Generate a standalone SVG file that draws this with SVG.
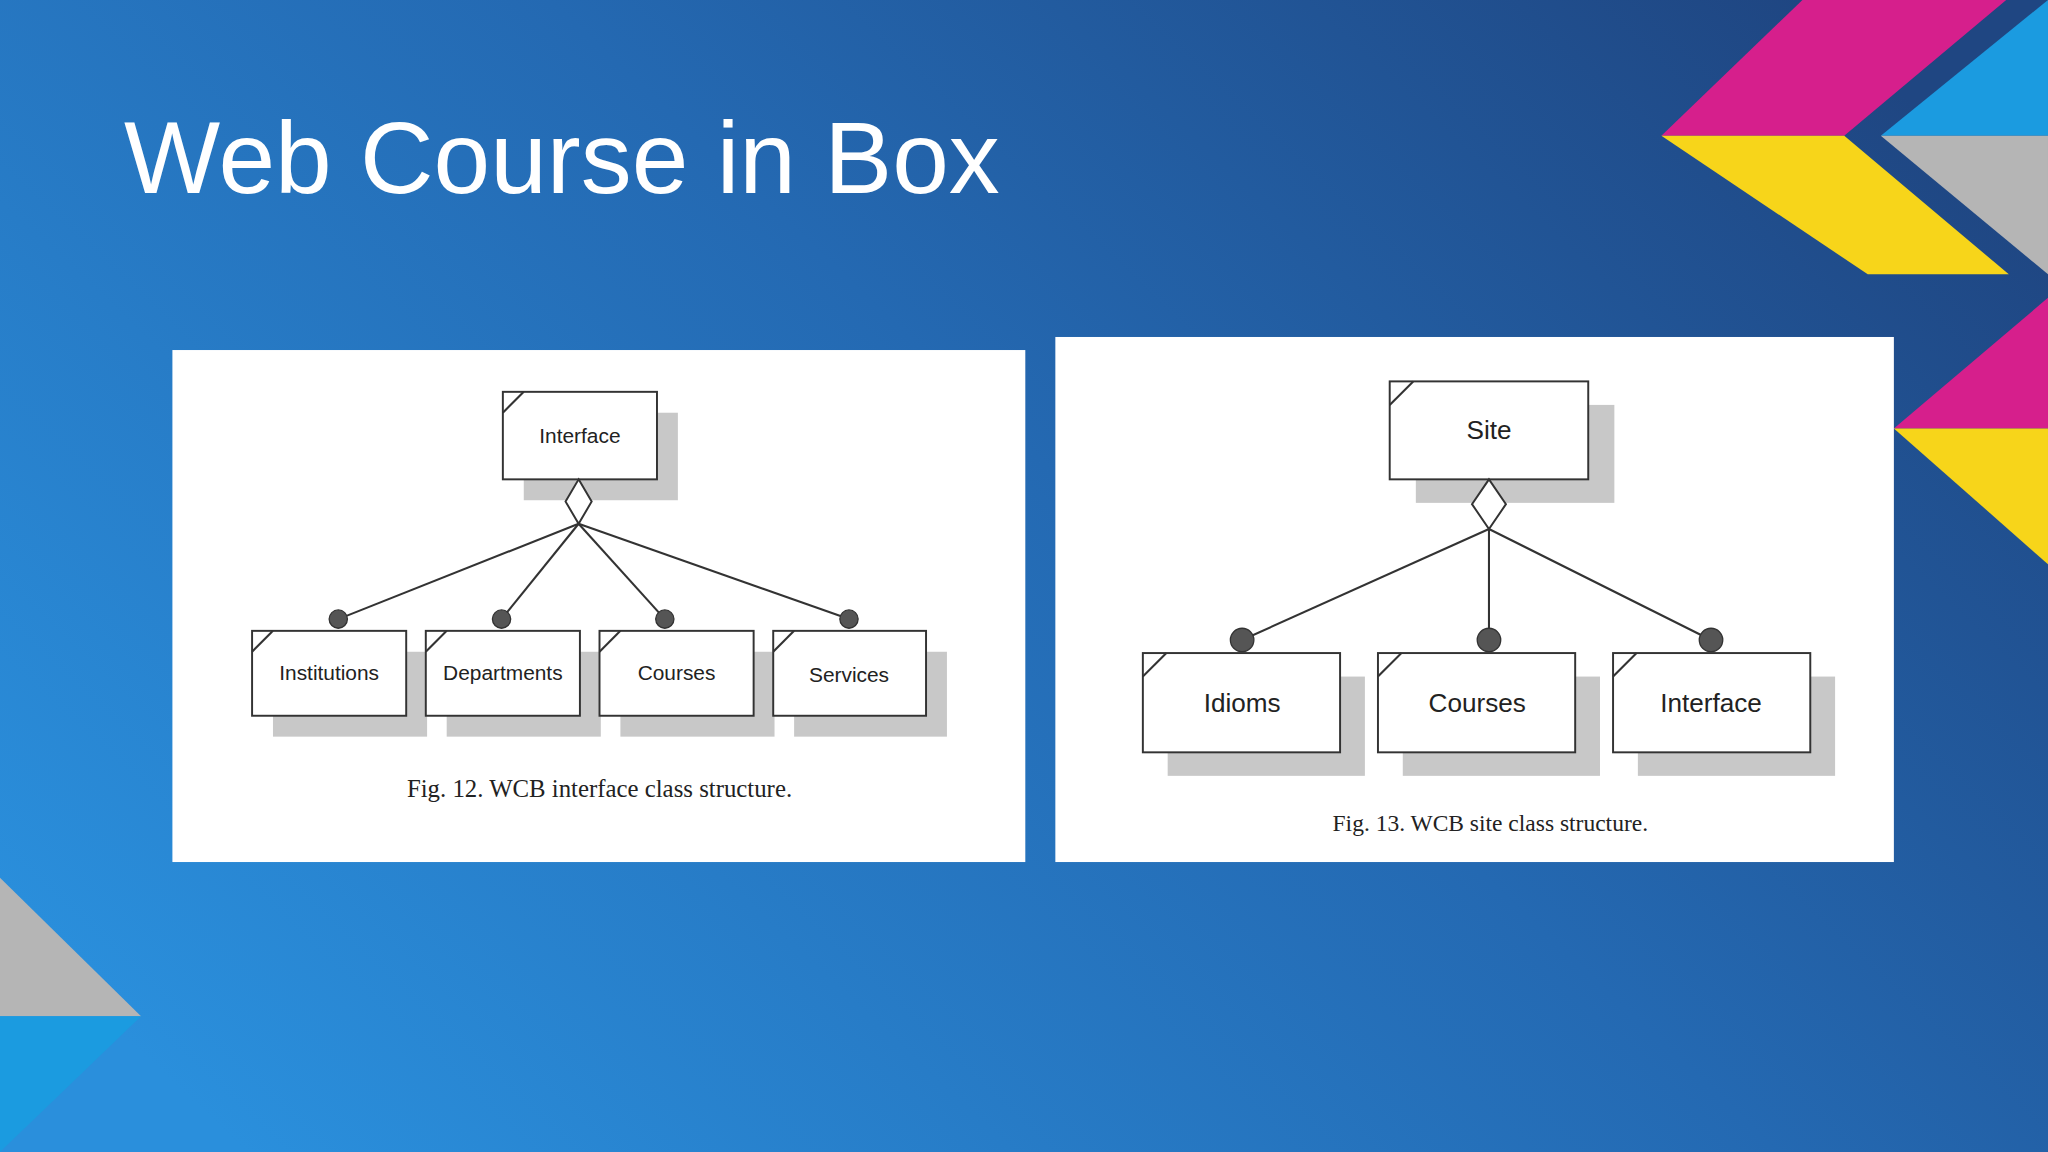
<svg xmlns="http://www.w3.org/2000/svg" width="2048" height="1152" viewBox="0 0 2048 1152">
<defs>
<linearGradient id="bg" x1="0" y1="0.8" x2="1" y2="0.2">
<stop offset="0" stop-color="#2a8fdc"/><stop offset="0.55" stop-color="#2469b2"/><stop offset="1" stop-color="#1f4682"/>
</linearGradient>
<style>
.box{fill:#fff;stroke:#333;stroke-width:1.5}
.sh{fill:#c8c8c8}
.ln{stroke:#333;stroke-width:1.6;fill:none}
.dot{fill:#555;stroke:#333;stroke-width:1}
.t1{font-family:"Liberation Sans",Arial,sans-serif;font-size:16px;fill:#222;text-anchor:middle}
.t2{font-family:"Liberation Sans",Arial,sans-serif;font-size:20px;fill:#222;text-anchor:middle}
.cap{font-family:"Liberation Serif","Times New Roman",serif;fill:#222;text-anchor:middle}
</style>
</defs>
<rect width="2048" height="1152" fill="url(#bg)"/>
<g transform="scale(1.30612)">
<polygon points="1272,104 1412,104 1536,0 1380,0" fill="#d61f8c"/>
<polygon points="1272,104 1412,104 1538,210 1430,210" fill="#f7d51a"/>
<polygon points="1440,104 1568,104 1568,0" fill="#1b9be0"/>
<polygon points="1440,104 1568,104 1568,210" fill="#b5b5b5"/>
<polygon points="1450,328 1568,228 1568,328" fill="#d61f8c"/>
<polygon points="1450,328 1568,328 1568,432" fill="#f7d51a"/>
<polygon points="0,672 108,778 0,778" fill="#b5b5b5"/>
<polygon points="0,778 108,778 0,882" fill="#1b9be0"/>
<text x="95" y="148" font-family="Liberation Sans,Arial,sans-serif" font-size="78" fill="#fff">Web Course in Box</text>

<g id="fig12">
<rect x="132" y="268" width="653" height="392" fill="#fff"/>
<g id="connectors12" class="ln">
<line x1="443" y1="401" x2="259" y2="474"/><line x1="443" y1="401" x2="384" y2="474"/>
<line x1="443" y1="401" x2="509" y2="474"/><line x1="443" y1="401" x2="650" y2="474"/>
</g>
<g id="n-interface"><rect class="sh" x="401" y="316" width="118" height="67"/><rect class="box" x="385" y="300" width="118" height="67"/><path class="ln" d="M385,316 L401,300"/><polygon points="443,367 453,384 443,401 433,384" fill="#fff" stroke="#333" stroke-width="1.5"/><text class="t1" x="444" y="339">Interface</text></g>
<g id="n-inst"><rect class="sh" x="209" y="499" width="118" height="65"/><rect class="box" x="193" y="483" width="118" height="65"/><path class="ln" d="M193,499 L209,483"/><text class="t1" x="252" y="521">Institutions</text><circle class="dot" cx="259" cy="474" r="7"/></g>
<g id="n-dept"><rect class="sh" x="342" y="499" width="118" height="65"/><rect class="box" x="326" y="483" width="118" height="65"/><path class="ln" d="M326,499 L342,483"/><text class="t1" x="385" y="521">Departments</text><circle class="dot" cx="384" cy="474" r="7"/></g>
<g id="n-courses"><rect class="sh" x="475" y="499" width="118" height="65"/><rect class="box" x="459" y="483" width="118" height="65"/><path class="ln" d="M459,499 L475,483"/><text class="t1" x="518" y="521">Courses</text><circle class="dot" cx="509" cy="474" r="7"/></g>
<g id="n-services"><rect class="sh" x="608" y="499" width="117" height="65"/><rect class="box" x="592" y="483" width="117" height="65"/><path class="ln" d="M592,499 L608,483"/><text class="t1" x="650" y="522">Services</text><circle class="dot" cx="650" cy="474" r="7"/></g>
<text class="cap" x="459" y="610" font-size="19">Fig.  12. WCB interface class structure.</text>
</g>

<g id="fig13">
<rect x="808" y="258" width="642" height="402" fill="#fff"/>
<g id="connectors13" class="ln">
<line x1="1140" y1="405" x2="951" y2="490"/><line x1="1140" y1="405" x2="1140" y2="490"/><line x1="1140" y1="405" x2="1310" y2="490"/>
</g>
<g id="n-site"><rect class="sh" x="1084" y="310" width="152" height="75"/><rect class="box" x="1064" y="292" width="152" height="75"/><path class="ln" d="M1064,310 L1082,292"/><polygon points="1140,367 1153,386 1140,405 1127,386" fill="#fff" stroke="#333" stroke-width="1.5"/><text class="t2" x="1140" y="336">Site</text></g>
<g id="n-idioms"><rect class="sh" x="894" y="518" width="151" height="76"/><rect class="box" x="875" y="500" width="151" height="76"/><path class="ln" d="M875,518 L893,500"/><text class="t2" x="951" y="545">Idioms</text><circle class="dot" cx="951" cy="490" r="9"/></g>
<g id="n-courses2"><rect class="sh" x="1074" y="518" width="151" height="76"/><rect class="box" x="1055" y="500" width="151" height="76"/><path class="ln" d="M1055,518 L1073,500"/><text class="t2" x="1131" y="545">Courses</text><circle class="dot" cx="1140" cy="490" r="9"/></g>
<g id="n-interface2"><rect class="sh" x="1254" y="518" width="151" height="76"/><rect class="box" x="1235" y="500" width="151" height="76"/><path class="ln" d="M1235,518 L1253,500"/><text class="t2" x="1310" y="545">Interface</text><circle class="dot" cx="1310" cy="490" r="9"/></g>
<text class="cap" x="1141" y="636" font-size="18">Fig.  13. WCB site class structure.</text>
</g>
</g>
</svg>
